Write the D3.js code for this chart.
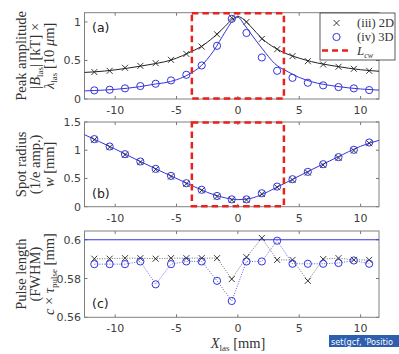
<!DOCTYPE html>
<html>
  <head>
    <script src="https://d3js.org/d3.v7.min.js"></script>
    <style>
      body { margin: 0; background: #fff; }
      text { font-family: "DejaVu Sans", sans-serif; }
      .serif { font-family: "Liberation Serif", "DejaVu Serif", serif; }
    </style>
  </head>
  <body>
    <svg id="chart" width="399" height="354"></svg>
    <script>
      // scan positions (mm)
      let xs = [-11.7, -10.45, -9.2, -7.95, -6.7, -5.45, -4.2, -2.95, -1.7, -0.5,
                0.7, 1.95, 3.2, 4.45, 5.7, 6.95, 8.2, 9.45, 10.7];

      // (a) peak amplitude
      let amp2D = [0.35, 0.366, 0.405, 0.43, 0.465, 0.508, 0.585, 0.68, 0.84, 1.055,
                   1.0, 0.78, 0.646, 0.556, 0.491, 0.448, 0.418, 0.392, 0.366];
      let amp3D = [0.112, 0.12, 0.138, 0.168, 0.198, 0.241, 0.314, 0.435, 0.69, 1.04,
                   0.857, 0.539, 0.366, 0.275, 0.211, 0.177, 0.155, 0.138, 0.116];
      let ampFitX = [-12.5, -11.7, -10, -8, -6.7, -6, -5, -4, -3, -2, -1, -0.5, 0, 0.5, 1, 2, 3, 4, 5, 6, 8, 10, 11.5];
      let ampFit2D = [0.345, 0.352, 0.378, 0.425, 0.46, 0.482, 0.53, 0.6, 0.68, 0.8, 0.95, 1.03, 1.07,
                      1.03, 0.95, 0.78, 0.665, 0.585, 0.53, 0.485, 0.425, 0.38, 0.36];
      let ampFit3D = [0.105, 0.11, 0.125, 0.16, 0.195, 0.21, 0.25, 0.32, 0.43, 0.62, 0.88, 1.0, 1.06,
                      0.97, 0.86, 0.65, 0.46, 0.36, 0.28, 0.225, 0.165, 0.13, 0.115];

      // (b) spot radius
      let rad2D = [1.185, 1.055, 0.92, 0.79, 0.66, 0.535, 0.405, 0.29, 0.18, 0.12,
                   0.12, 0.225, 0.345, 0.475, 0.605, 0.74, 0.865, 0.995, 1.125];
      let rad3D = [1.197, 1.066, 0.93, 0.8, 0.67, 0.546, 0.416, 0.3, 0.19, 0.13,
                   0.13, 0.238, 0.356, 0.487, 0.617, 0.753, 0.878, 1.008, 1.137];
      let radFitX = [-12.5, -10, -8, -6, -4, -3, -2, -1, 0, 1, 2, 3, 4, 6, 8, 10, 11.5];
      let radFit = [1.275, 1.02, 0.805, 0.6, 0.4, 0.3, 0.215, 0.155, 0.125, 0.145, 0.22, 0.325, 0.435, 0.655, 0.865, 1.07, 1.175];

      // (c) pulse length
      let len2D = [0.5902, 0.5902, 0.5905, 0.5905, 0.5902, 0.5905, 0.5905, 0.5905, 0.5905, 0.5797,
                   0.591, 0.6009, 0.5896, 0.5896, 0.5788, 0.59, 0.5905, 0.5896, 0.5896];
      let len3D = [0.5874, 0.5874, 0.5874, 0.5888, 0.577, 0.5874, 0.5888, 0.5888, 0.5788, 0.5684,
                   0.5888, 0.5888, 0.5995, 0.5876, 0.5876, 0.5876, 0.588, 0.5893, 0.5876];
      let lenRef = [0.6, 0.6];
      let lenRefX = [-12.5, 11.5];

      let Lcoll = [-3.75, 3.75];
      let xTicks = [-10, -5, 0, 5, 10];

      let blue = "#3434dc", red = "#e8221c", dark = "#222";
      let svg = d3.select("#chart");
      svg.append("rect").attr("width", 399).attr("height", 354).attr("fill", "#fff");

      let x = d3.scaleLinear().domain([-12.5, 11.5]).range([84.5, 379]);

      // writes serif text with italic / subscript pieces
      function rich(sel, parts, size) {
        let dyAcc = 0;
        parts.forEach((p) => {
          let t = sel.append("tspan").text(p[0]);
          let want = p[1] === "sub" || p[1] === "isub" ? 3 : 0;
          if (want !== dyAcc) { t.attr("dy", want - dyAcc); dyAcc = want; }
          if (p[1] === "i" || p[1] === "isub") t.attr("font-style", "italic");
          if (p[1] === "sub" || p[1] === "isub") t.attr("font-size", size * 0.62);
        });
      }

      function panel(top, bottom, domain, ticks, label, labelY, ylines) {
        let y = d3.scaleLinear().domain(domain).range([bottom, top]);
        let g = svg.append("g");
        // ticks inside the box, on all four sides
        xTicks.forEach((t) => {
          g.append("line").attr("x1", x(t)).attr("x2", x(t)).attr("y1", bottom).attr("y2", bottom - 3).attr("stroke", "#777");
          g.append("line").attr("x1", x(t)).attr("x2", x(t)).attr("y1", top).attr("y2", top + 3).attr("stroke", "#777");
          g.append("text").attr("x", x(t)).attr("y", bottom + 15).attr("text-anchor", "middle")
            .attr("font-size", 11).attr("fill", "#404040").text(t);
        });
        ticks.forEach((t) => {
          g.append("line").attr("x1", x.range()[0]).attr("x2", x.range()[0] + 3).attr("y1", y(t)).attr("y2", y(t)).attr("stroke", "#777");
          g.append("line").attr("x1", x.range()[1]).attr("x2", x.range()[1] - 3).attr("y1", y(t)).attr("y2", y(t)).attr("stroke", "#777");
          g.append("text").attr("x", 81).attr("y", y(t) + 4).attr("text-anchor", "end")
            .attr("font-size", 11).attr("fill", "#404040").text(t);
        });
        g.append("rect").attr("x", x.range()[0]).attr("y", top)
          .attr("width", x.range()[1] - x.range()[0]).attr("height", bottom - top)
          .attr("fill", "none").attr("stroke", "#808080").attr("stroke-width", 1);
        g.append("text").attr("x", 92).attr("y", labelY).attr("font-size", 12.5).attr("fill", "#222").text(label);
        let cy = (top + bottom) / 2;
        ylines.forEach((ln, i) => {
          let t = g.append("text").attr("class", "serif").attr("text-anchor", "middle")
            .attr("font-size", 14.5).attr("fill", "#333")
            .attr("transform", `translate(${26 + i * 14},${cy}) rotate(-90)`);
          rich(t, ln, 14.5);
        });
        return y;
      }

      function line(y, xv, yv, color, dash, width, curve) {
        let gen = d3.line().x((d) => x(d[0])).y((d) => y(d[1])).curve(curve || d3.curveLinear);
        svg.append("path").attr("d", gen(d3.zip(xv, yv))).attr("fill", "none")
          .attr("stroke", color).attr("stroke-width", width || 1).attr("stroke-dasharray", dash || null);
      }
      function crosses(y, xv, yv) {
        svg.append("g").selectAll("path").data(d3.zip(xv, yv)).join("path")
          .attr("d", (d) => `M${x(d[0]) - 3},${y(d[1]) - 3}L${x(d[0]) + 3},${y(d[1]) + 3}M${x(d[0]) - 3},${y(d[1]) + 3}L${x(d[0]) + 3},${y(d[1]) - 3}`)
          .attr("stroke", dark).attr("stroke-width", 0.9);
      }
      function circles(y, xv, yv) {
        svg.append("g").selectAll("circle").data(d3.zip(xv, yv)).join("circle")
          .attr("cx", (d) => x(d[0])).attr("cy", (d) => y(d[1])).attr("r", 3.6)
          .attr("fill", "none").attr("stroke", blue).attr("stroke-width", 1);
      }
      function collBox(y) {
        svg.append("rect").attr("x", x(Lcoll[0])).attr("y", y.range()[1] + 0.5)
          .attr("width", x(Lcoll[1]) - x(Lcoll[0])).attr("height", y.range()[0] - y.range()[1] - 1)
          .attr("fill", "none").attr("stroke", red).attr("stroke-width", 2.5).attr("stroke-dasharray", "6.5,4");
      }

      // (a)
      let ya = panel(12.7, 99, [0, 1.12], [0, 0.5, 1], "(a)", 31.5, [
        [["Peak amplitude", ""]],
        [["|", ""], ["B", "i"], ["las", "sub"], ["| [kT] \u00d7", ""]],
        [["\u03bb", "i"], ["las", "sub"], [" [10 ", ""], ["\u03bc", "i"], ["m]", ""]],
      ]);
      line(ya, ampFitX, ampFit2D, dark, null, 1, d3.curveMonotoneX);
      line(ya, ampFitX, ampFit3D, blue, null, 1, d3.curveMonotoneX);
      crosses(ya, xs, amp2D);
      circles(ya, xs, amp3D);
      collBox(ya);

      // (b)
      let yb = panel(122, 206.7, [0, 1.5], [0, 0.5, 1, 1.5], "(b)", 197.5, [
        [["Spot radius", ""]],
        [["(1/e amp.)", ""]],
        [["w", "i"], [" [mm]", ""]],
      ]);
      line(yb, radFitX, radFit, blue, null, 1, d3.curveMonotoneX);
      crosses(yb, xs, rad2D);
      circles(yb, xs, rad3D);
      collBox(yb);

      // (c)
      let yc = panel(231, 317.3, [0.56, 0.6045], [0.56, 0.58, 0.6], "(c)", 307.5, [
        [["Pulse length", ""]],
        [["(FWHM)", ""]],
        [["c", "i"], [" \u00d7 ", ""], ["\u03c4", "i"], ["pulse", "sub"], [" [mm]", ""]],
      ]);
      line(yc, lenRefX, lenRef, blue, null, 1.2);
      line(yc, xs, len2D, "#444", "1,1.5", 0.8);
      line(yc, xs, len3D, blue, "1,1.5", 0.8);
      crosses(yc, xs, len2D);
      circles(yc, xs, len3D);

      // x label
      let xl = svg.append("text").attr("class", "serif").attr("x", 238).attr("y", 348)
        .attr("text-anchor", "middle").attr("font-size", 14.5).attr("fill", "#333");
      rich(xl, [["X", "i"], ["las", "sub"], [" [mm]", ""]], 14.5);

      // legend
      let lg = svg.append("g");
      lg.append("rect").attr("x", 320).attr("y", 13).attr("width", 75).attr("height", 47)
        .attr("fill", "#fff").attr("stroke", "#333").attr("stroke-width", 0.8);
      lg.append("path").attr("d", "M333.5,20L339.5,26M333.5,26L339.5,20").attr("stroke", dark).attr("stroke-width", 0.9);
      lg.append("circle").attr("cx", 336.5).attr("cy", 37).attr("r", 3.6).attr("fill", "none").attr("stroke", blue);
      lg.append("line").attr("x1", 322).attr("x2", 351).attr("y1", 50.5).attr("y2", 50.5)
        .attr("stroke", red).attr("stroke-width", 2.5).attr("stroke-dasharray", "6,4");
      [["(iii) 2D", 27], ["(iv) 3D", 41]].forEach((d) => {
        lg.append("text").attr("class", "serif").attr("x", 357).attr("y", d[1])
          .attr("font-size", 12.5).attr("fill", "#333").text(d[0]);
      });
      let lt = lg.append("text").attr("class", "serif").attr("x", 357).attr("y", 54.5).attr("font-size", 13).attr("fill", "#333");
      rich(lt, [["L", "i"], ["cw", "isub"]], 13);

      // leftover MATLAB command overlay
      svg.append("rect").attr("x", 329).attr("y", 335).attr("width", 70).attr("height", 12).attr("fill", "#2e5fae");
      svg.append("text").attr("x", 331).attr("y", 344.5).attr("font-size", 9).attr("fill", "#fff")
        .attr("textLength", 62).attr("lengthAdjust", "spacingAndGlyphs").text("set(gcf, 'Positio");
    </script>
  </body>
</html>
